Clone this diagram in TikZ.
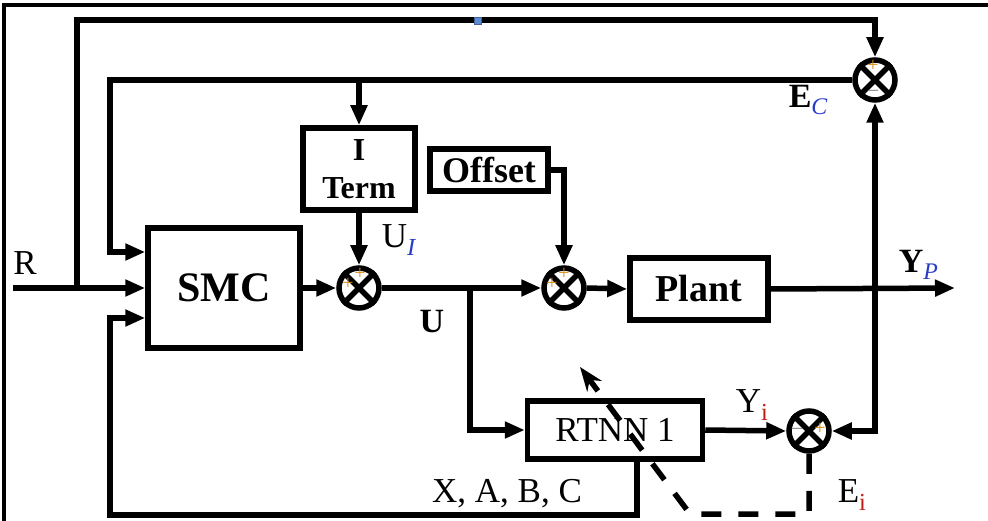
\documentclass[tikz,border=0pt]{standalone}
\usepackage{fontspec}
\setmainfont{Liberation Serif}
\usetikzlibrary{arrows.meta,calc}
\definecolor{plusc}{RGB}{214,140,20}
\definecolor{minusc}{RGB}{130,130,130}
\definecolor{subblue}{RGB}{40,60,200}
\definecolor{subred}{RGB}{190,30,20}
\definecolor{handle}{RGB}{91,141,214}
\begin{document}
\begin{tikzpicture}[x=1pt,y=-1pt,line width=5.5pt,
  arr/.style={-{Triangle[length=20pt,width=16pt]}},
  blk/.style={draw,line width=5.5pt,inner sep=0pt,align=center,font=\bfseries\fontsize{36}{38}\selectfont},
  sumj/.style={circle,draw,line width=5.5pt,minimum size=40pt,inner sep=0pt},
  lbl/.style={inner sep=0pt,font=\fontsize{35}{38}\selectfont},
  blbl/.style={inner sep=0pt,font=\bfseries\fontsize{34}{38}\selectfont},
  pl/.style={inner sep=0pt,text=plusc,font=\fontsize{20}{20}\selectfont},
  mi/.style={inner sep=0pt,text=minusc,font=\fontsize{20}{20}\selectfont},
  dsh/.style={dash pattern=on 20pt off 17pt}
]
\useasboundingbox (0,0) rectangle (988,521);
% frame
\draw[line width=3.5pt] (4,521) -- (4,5) -- (988,5);

% blocks
\node[blk,minimum width=152pt,minimum height=120pt,font=\bfseries\fontsize{42}{46}\selectfont] (smc) at (224,288) {SMC};
\node[blk,minimum width=112pt,minimum height=82pt,font=\bfseries\fontsize{32}{38}\selectfont] (iterm) at (359,169) {I\\Term};
\node[blk,minimum width=118pt,minimum height=42pt] (offset) at (489,170) {Offset};
\node[blk,minimum width=138pt,minimum height=62pt,font=\bfseries\fontsize{38}{40}\selectfont] (plant) at (699,289) {Plant};
\node[blk,minimum width=175pt,minimum height=58pt,font=\fontsize{35}{38}\selectfont] (rtnn) at (615,430) {RTNN 1};

% summing junctions
\node[sumj] (s1) at (359,288) {};
\node[sumj] (s2) at (564,288) {};
\node[sumj] (sec) at (875,80) {};
\node[sumj] (s3) at (809,431) {};
\foreach \s in {s1,s2,sec,s3}{
  \draw (\s.north west) -- (\s.south east) (\s.north east) -- (\s.south west);
}
% signs
\node[pl] at ($(s1)+(1,-14)$) {+};
\node[pl] at ($(s1)+(-11,-4)$) {+};
\node[pl] at ($(s2)+(0,-14)$) {+};
\node[pl] at ($(s2)+(-12,-4)$) {+};
\node[pl] at ($(sec)+(-2,-14)$) {+};
\node[mi] at ($(sec)+(-2,13)$) {\textendash};
\node[mi] at ($(s3)+(-12,0)$) {\textendash};
\node[pl] at ($(s3)+(11,-2)$) {+};

% coordinates
\coordinate (rin) at (13,288);
\coordinate (tapR) at (77,288);
\coordinate (topL) at (77,20);
\coordinate (topR) at (875,20);
\coordinate (c2a) at (110,80);
\coordinate (c2b) at (110,252);
\coordinate (itop) at (359,80);
\coordinate (tapU) at (470,288);
\coordinate (yout) at (955,288);
\coordinate (tapY) at (875,288);
\coordinate (rb1) at (637,459);
\coordinate (rb2) at (637,515);
\coordinate (rb3) at (110,515);
\coordinate (rb4) at (110,318);
\coordinate (d1) at (809,514);
\coordinate (d2) at (690,514);
\coordinate (d3) at (580,367);

% connectors
\draw[arr] (rin) -- (smc.west);
\draw[arr] (tapR) -- (topL) -- (topR) -- (sec.north);
\draw[arr] (sec.west) -- (c2a) -- (c2b) -- (smc.west |- c2b);
\draw[arr] (itop) -- (iterm.north);
\draw[arr] (iterm.south) -- (s1.north);
\draw[arr] (smc.east |- s1) -- (s1.west);
\draw[arr] (s1.east) -- (s2.west);
\draw[arr] (offset.east) -| (s2.north);
\draw[arr] (s2.east) -- (plant.west);
\draw[arr] (plant.east) -- (yout);
\draw[arr] (tapU) |- (rtnn.west);
\draw[arr] (rtnn.east) -- (s3.west);
\draw[arr] (tapY) -- (sec.south);
\draw[arr] (tapY) |- (s3.east);
\draw[arr] (rb1) -- (rb2) -- (rb3) -- (rb4) -- (smc.west |- rb4);
\draw[dsh,-{Stealth[length=24pt,width=18pt]}] (s3.south) -- (d1) -- (d2) -- (d3);

% labels
\node[lbl] at (25,263) {R};
\node[blbl] at (432,322) {U};
\node[lbl,anchor=west] at (379,240) {U\textsubscript{\textcolor{subblue}{\itshape I}}};
\node[blbl,anchor=west] at (896,265) {Y\textsubscript{\textcolor{subblue}{\mdseries\itshape P}}};
\node[blbl,anchor=west] at (786,100) {E\textsubscript{\textcolor{subblue}{\mdseries\itshape C}}};
\node[lbl,anchor=west] at (733,405) {Y\textsubscript{\textcolor{subred}{i}}};
\node[lbl,anchor=west] at (835,495) {E\textsubscript{\textcolor{subred}{i}}};
\node[lbl] at (507,494) {X, A, B, C};

% selection handle
\filldraw[fill=handle,draw=handle!70!black,line width=0.6pt] (474,17) rectangle (481,24);
\end{tikzpicture}
\end{document}
